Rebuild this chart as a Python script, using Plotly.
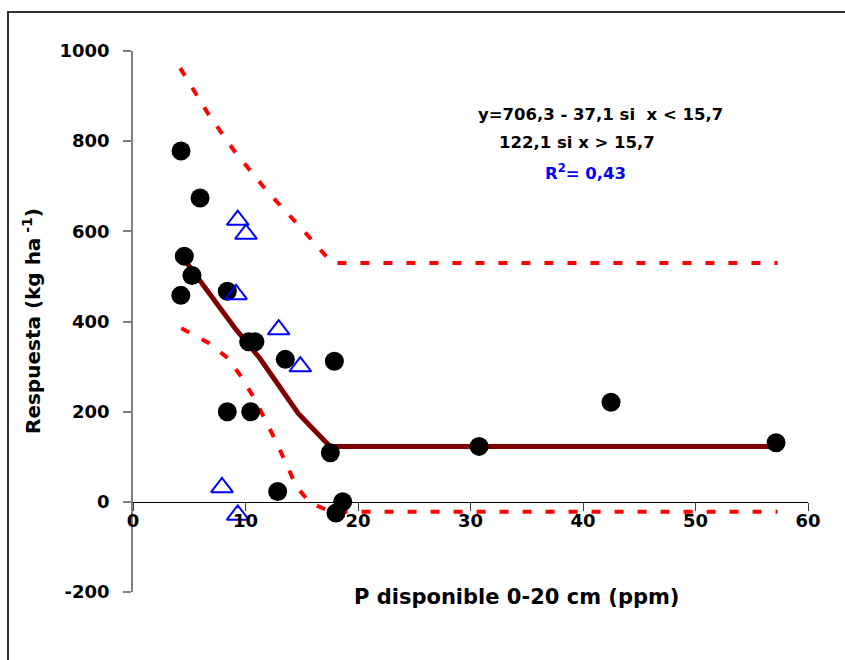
import plotly.graph_objects as go

# ---- data ----
circle_x = [4.27, 5.96, 4.56, 5.24, 4.25, 8.38, 10.28, 10.84, 13.54, 17.9, 8.38, 10.46, 17.54, 12.86, 18.64, 18.04, 30.76, 42.49, 57.16]
circle_y = [778, 674, 545, 502, 458, 467, 355, 355, 316, 312, 200, 200, 109, 23, 0, -25, 123, 221, 131]

tri_x = [9.31, 10.04, 9.16, 12.95, 14.87, 7.91, 9.31]
tri_y = [625, 594, 460, 382, 300, 32, -29]

fit_x = [4.25, 9.07, 11.29, 14.69, 17.51, 57.16]
fit_y = [548, 385, 318, 196, 123, 123]

upper_x = [4.2, 6.7, 9.07, 12.03, 15.0, 17.69, 57.3]
upper_y = [962, 860, 776, 686, 606, 530, 530]

lower_x = [4.3, 6.69, 8.47, 9.66, 10.84, 11.88, 12.77, 14.55, 15.73, 17.6, 57.3]
lower_y = [385, 353, 318, 276, 227, 175, 131, 33, -2, -22, -22]

x_ticks = [0, 10, 20, 30, 40, 50, 60]
x_tick_labels = ["0", "10", "20", "30", "40", "50", "60"]
y_ticks = [-200, 0, 200, 400, 600, 800, 1000]
y_tick_labels = ["-200", "0", "200", "400", "600", "800", "1000"]

eq_line1 = "y=706,3 - 37,1 si  x < 15,7"
eq_line2 = "122,1 si x > 15,7"
eq_line3 = "R<sup>2</sup>= 0,43"
x_title = "P disponible 0-20 cm (ppm)"
y_title = "Respuesta (kg ha<sup> -1</sup>)"

FONT = "DejaVu Sans"

fig = go.Figure()

fig.add_trace(go.Scatter(x=upper_x, y=upper_y, mode="lines",
                         line=dict(color="#ff0000", width=4, dash="9px,14px"),
                         hoverinfo="skip", showlegend=False))
fig.add_trace(go.Scatter(x=lower_x, y=lower_y, mode="lines",
                         line=dict(color="#ff0000", width=4, dash="9px,14px"),
                         hoverinfo="skip", showlegend=False))
fig.add_trace(go.Scatter(x=fit_x, y=fit_y, mode="lines",
                         line=dict(color="#800000", width=5),
                         showlegend=False))
fig.add_trace(go.Scatter(x=circle_x, y=circle_y, mode="markers",
                         marker=dict(symbol="circle", size=19, color="black",
                                     line=dict(width=0)),
                         showlegend=False))
fig.add_trace(go.Scatter(x=tri_x, y=tri_y, mode="markers",
                         marker=dict(symbol="triangle-up-open", size=19, color="#0000ff",
                                     line=dict(width=2, color="#0000ff")),
                         showlegend=False))

L, R, T, B = 133, 37, 51, 68
W, H = 845, 660
pw, ph = W - L - R, H - T - B

def px2paper(px, py):
    return (px - L) / pw, (H - B - py) / ph

fig.update_layout(
    width=W, height=H,
    margin=dict(l=L, r=R, t=T, b=B, pad=0),
    paper_bgcolor="white", plot_bgcolor="white",
    showlegend=False,
    font=dict(family=FONT, color="black"),
    xaxis=dict(range=[0, 60], tickmode="array", tickvals=x_ticks, ticktext=x_tick_labels,
               showgrid=False, zeroline=False,
               showline=True, linecolor="black", linewidth=1,
               ticks="outside", ticklen=8, tickcolor="#404040", tickwidth=1,
               anchor="free", position=200 / 1200,
               ticklabelstandoff=-5,
               tickfont=dict(family=FONT, size=18, color="black", weight="bold")),
    yaxis=dict(range=[-200, 1000], tickmode="array", tickvals=y_ticks, ticktext=y_tick_labels,
               showgrid=False, zeroline=False,
               showline=True, linecolor="#808080", linewidth=1.5,
               ticks="outside", ticklen=8, tickcolor="#808080", tickwidth=1.5,
               ticklabelstandoff=10,
               tickfont=dict(family=FONT, size=18, color="black", weight="bold")),
)

ann = []
x, y = px2paper(600.3, 114)
ann.append(dict(text=eq_line1, x=x, y=y, xref="paper", yref="paper", showarrow=False,
                xanchor="center", yanchor="middle",
                font=dict(family=FONT, size=16.5, color="black", weight="bold")))
x, y = px2paper(576.7, 142.3)
ann.append(dict(text=eq_line2, x=x, y=y, xref="paper", yref="paper", showarrow=False,
                xanchor="center", yanchor="middle",
                font=dict(family=FONT, size=16.5, color="black", weight="bold")))
x, y = px2paper(585.2, 171.7)
ann.append(dict(text=eq_line3, x=x, y=y, xref="paper", yref="paper", showarrow=False,
                xanchor="center", yanchor="middle",
                font=dict(family=FONT, size=16.5, color="#0000ff", weight="bold")))
x, y = px2paper(516, 597)
ann.append(dict(text=x_title, x=x, y=y, xref="paper", yref="paper", showarrow=False,
                xanchor="center", yanchor="middle",
                font=dict(family=FONT, size=21, color="black", weight="bold")))
x, y = px2paper(32, 321)
ann.append(dict(text=y_title, x=x, y=y, xref="paper", yref="paper", showarrow=False,
                xanchor="center", yanchor="middle", textangle=-90,
                font=dict(family=FONT, size=20, color="black", weight="bold")))
fig.update_layout(annotations=ann)

# outer frame (left and top edges visible; right/bottom lie outside the picture)
fx0, fy1 = px2paper(8, 12)
fx1, fy0 = px2paper(860, 680)
fig.add_shape(type="rect", xref="paper", yref="paper", x0=fx0, x1=fx1, y0=fy0, y1=fy1,
              line=dict(color="#333333", width=2), fillcolor="rgba(0,0,0,0)", layer="above")

fig.write_html("out.html", config={"displayModeBar": False},
               post_script="document.body.style.margin='0';document.body.style.overflow='hidden';")
